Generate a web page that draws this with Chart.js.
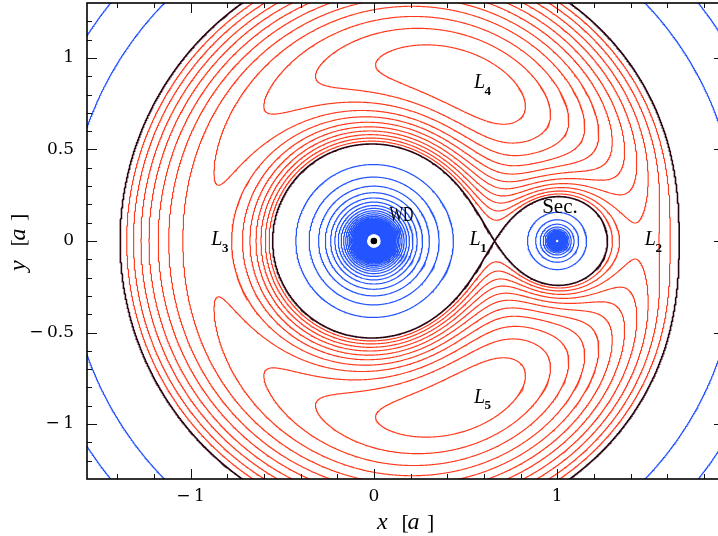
<!DOCTYPE html>
<html>
<head>
<meta charset="utf-8">
<script src="https://cdn.jsdelivr.net/npm/chart.js@4.4.1/dist/chart.umd.min.js"></script>
<style>
  html, body { margin: 0; padding: 0; background: #fff; overflow: hidden; }
  #wrap { width: 718px; height: 536px; }
</style>
</head>
<body>
<div id="wrap"><canvas id="c" width="718" height="536"></canvas></div>
<script>
// Equipotentials of the Roche potential for a white dwarf + secondary binary.
// Units: separation a = 1, G(M1+M2) = 1; the white dwarf sits at x = 0, the secondary at x = 1.
const massRatio = 0.2;                       // q = M2 / M1

// contour levels of the potential
const criticalLevel = [-1.8745];             // the level through L1 (Roche lobes + outer branch)
const outerLevels = [-1.837, -1.800, -1.762, -1.725, -1.687, -1.650, -1.612, -1.575, -1.537, -1.500, -1.462];
const innerLevels = [-2.25, -2.62, -3.00, -3.37, -3.75, -4.12, -4.50, -4.87, -5.25, -5.62,
  -6.00, -6.37, -6.75, -7.12, -7.50, -7.87, -8.25, -8.62, -9.00, -9.37,
  -9.75, -10.12, -10.50, -10.87, -11.25, -11.62, -12.00, -12.37, -12.75, -13.12,
  -13.50, -13.87, -14.25, -14.62, -15.00, -15.37, -15.75, -16.12, -16.50, -16.87,
  -17.25, -17.62, -18.00, -18.37, -18.75, -19.12, -19.50, -19.87, -20.25, -20.62,
  -21.00, -21.37, -21.75];

// stars
const starX = [0, 1];
const starY = [0, 0];

// axis ticks
const xTicks = [-1, 0, 1];
const yTicks = [-1, -0.5, 0, 0.5, 1];
const xMinorTicks = [-1.4, -1.2, -0.8, -0.6, -0.4, -0.2, 0.2, 0.4, 0.6, 0.8, 1.2, 1.4, 1.6, 1.8];
const yMinorTicks = [-1.2, -1.1, -0.9, -0.8, -0.7, -0.6, -0.4, -0.3, -0.2, -0.1,
  0.1, 0.2, 0.3, 0.4, 0.6, 0.7, 0.8, 0.9, 1.1, 1.2];

// text placed in the plane
const pointNames = ['1', '2', '3', '4', '5'];        // Lagrangian point subscripts
const starNames = ['WD', 'Sec.'];

// ---- layout (data coordinates of the text anchors, left/baseline) ----
const lagrangeAnchors = [[0.522, -0.022], [1.478, -0.022], [-0.887, -0.022], [0.546, 0.835], [0.546, -0.884]];
const starAnchors = [[0.085, 0.111], [0.918, 0.153]];
const PLOT = { left: 87, right: 724, top: 3, bottom: 479 };   // plot frame in canvas pixels

const COL_RED = '#ff3a1c';
const COL_BLUE = '#2354ff';
const COL_DARK = '#2a0410';

// ---- potential on a grid ----
const mu2 = massRatio / (1 + massRatio), mu1 = 1 - mu2;
function roche(x, y) {
  return -mu1 / Math.hypot(x - starX[0], y - starY[0])
         - mu2 / Math.hypot(x - starX[1], y - starY[1])
         - 0.5 * ((x - mu2) * (x - mu2) + y * y);
}
const H = 0.005, X0 = -1.6225, Y0 = -1.3525, NX = 716, NY = 542;
const F = new Float64Array(NX * NY);
for (let j = 0; j < NY; j++) {
  const y = Y0 + j * H;
  for (let i = 0; i < NX; i++) F[j * NX + i] = roche(X0 + i * H, y);
}

// marching squares; edges: 0 bottom, 1 right, 2 top, 3 left
const CASES = [null, [[3, 0]], [[0, 1]], [[3, 1]], [[1, 2]], null, [[0, 2]], [[3, 2]],
               [[2, 3]], [[0, 2]], null, [[1, 2]], [[1, 3]], [[0, 1]], [[0, 3]], null];

function traceLevel(level) {
  const coords = new Map();
  const ends = new Map();
  const segA = [], segB = [];
  for (let j = 0; j < NY - 1; j++) {
    for (let i = 0; i < NX - 1; i++) {
      const k = j * NX + i;
      const v0 = F[k], v1 = F[k + 1], v2 = F[k + NX + 1], v3 = F[k + NX];
      const c = (v0 > level ? 1 : 0) | (v1 > level ? 2 : 0) | (v2 > level ? 4 : 0) | (v3 > level ? 8 : 0);
      if (c === 0 || c === 15) continue;
      let pairs = CASES[c];
      if (c === 5 || c === 10) {
        const centre = (v0 + v1 + v2 + v3) / 4 > level;
        pairs = ((c === 5) === centre) ? [[0, 1], [2, 3]] : [[3, 0], [1, 2]];
      }
      for (const pr of pairs) {
        const keys = [0, 0];
        for (let m = 0; m < 2; m++) {
          const e = pr[m];
          let key, x, y, t;
          if (e === 0) { key = 2 * k; t = (level - v0) / (v1 - v0); x = X0 + (i + t) * H; y = Y0 + j * H; }
          else if (e === 1) { key = 2 * (k + 1) + 1; t = (level - v1) / (v2 - v1); x = X0 + (i + 1) * H; y = Y0 + (j + t) * H; }
          else if (e === 2) { key = 2 * (k + NX); t = (level - v3) / (v2 - v3); x = X0 + (i + t) * H; y = Y0 + (j + 1) * H; }
          else { key = 2 * k + 1; t = (level - v0) / (v3 - v0); x = X0 + i * H; y = Y0 + (j + t) * H; }
          if (!coords.has(key)) coords.set(key, [x, y]);
          keys[m] = key;
        }
        const s = segA.length;
        segA.push(keys[0]); segB.push(keys[1]);
        for (const kk of keys) {
          const l = ends.get(kk);
          if (l) l.push(s); else ends.set(kk, [s]);
        }
      }
    }
  }
  // join cell segments into polylines
  const n = segA.length, used = new Uint8Array(n), lines = [];
  const walk = (start, out) => {
    let key = start;
    for (;;) {
      const lst = ends.get(key);
      let nxt = -1;
      for (const t of lst) if (!used[t]) { nxt = t; break; }
      if (nxt < 0) break;
      used[nxt] = 1;
      key = segA[nxt] === key ? segB[nxt] : segA[nxt];
      out.push(key);
    }
  };
  for (let s = 0; s < n; s++) {
    if (used[s]) continue;
    used[s] = 1;
    const fwd = [segA[s], segB[s]];
    walk(segB[s], fwd);
    const back = [];
    walk(segA[s], back);
    const keys = back.reverse().concat(fwd);
    lines.push(keys.map(q => coords.get(q)));
  }
  return lines;
}

function levelPoints(levels) {
  const pts = [];
  for (const lv of levels) {
    for (const line of traceLevel(lv)) {
      for (const p of line) pts.push({ x: p[0], y: p[1] });
      pts.push({ x: null, y: null });
    }
  }
  return pts;
}

const fmt = v => (v < 0 ? '\u2212\u2009' + String(Math.abs(v)) : String(v));

// fixed plot frame; the right edge runs just past the canvas
const framePlugin = {
  id: 'frame',
  afterLayout(chart) {
    const a = chart.chartArea;
    Object.assign(a, PLOT, { width: PLOT.right - PLOT.left, height: PLOT.bottom - PLOT.top });
    const { x, y } = chart.scales;
    x.left = PLOT.left; x.right = PLOT.right; x.width = PLOT.right - PLOT.left; x.configure();
    y.top = PLOT.top; y.bottom = PLOT.bottom; y.height = PLOT.bottom - PLOT.top; y.configure();
  },
  // inward major/minor ticks on all four sides
  afterDatasetsDraw(chart) {
    const { ctx, chartArea: a, scales: { x, y } } = chart;
    ctx.save();
    ctx.strokeStyle = '#111';
    ctx.lineWidth = 1;
    ctx.beginPath();
    const tick = (list, len) => {
      for (const v of list) {
        const px = Math.round(x.getPixelForValue(v)) + 0.5;
        ctx.moveTo(px, a.bottom); ctx.lineTo(px, a.bottom - len);
        ctx.moveTo(px, a.top); ctx.lineTo(px, a.top + len);
      }
    };
    const tickY = (list, len) => {
      for (const v of list) {
        const py = Math.round(y.getPixelForValue(v)) + 0.5;
        ctx.moveTo(a.left, py); ctx.lineTo(a.left + len, py);
        ctx.moveTo(a.right, py); ctx.lineTo(a.right - len, py);
      }
    };
    tick(xTicks, 10); tick(xMinorTicks, 5);
    tickY(yTicks, 10); tickY(yMinorTicks, 5);
    ctx.stroke();
    ctx.strokeStyle = '#000';
    ctx.lineWidth = 1.6;
    ctx.strokeRect(a.left, a.top, a.right - a.left, a.bottom - a.top);
    ctx.restore();
  },
  afterDraw(chart) {
    const { ctx, chartArea: a, scales: { x, y } } = chart;
    ctx.save();
    ctx.fillStyle = '#000';
    ctx.textAlign = 'left';
    ctx.textBaseline = 'alphabetic';
    // Lagrangian points
    lagrangeAnchors.forEach((p, i) => {
      const px = x.getPixelForValue(p[0]), py = y.getPixelForValue(p[1]);
      ctx.font = 'italic 20px "Liberation Serif"';
      ctx.fillText('L', px, py);
      const w = ctx.measureText('L').width;
      ctx.font = 'bold 13px "Liberation Serif"';
      ctx.fillText(pointNames[i], px + w - 0.5, py + 6.5);
    });
    // stars
    ctx.font = '20px "Liberation Serif"';
    ctx.fillText(starNames[0], x.getPixelForValue(starAnchors[0][0]), y.getPixelForValue(starAnchors[0][1]), 24);
    ctx.font = '21px "Liberation Serif"';
    ctx.fillText(starNames[1], x.getPixelForValue(starAnchors[1][0]), y.getPixelForValue(starAnchors[1][1]));

    // axis titles: italic variable, upright brackets, italic unit
    const title = (v) => {
      ctx.font = 'italic 24px "Liberation Serif"';
      ctx.fillText(v, 0, 0);
      ctx.font = '22px "Liberation Serif"';
      ctx.fillText('[', 24.5, 0);
      ctx.font = 'italic 24px "Liberation Serif"';
      ctx.fillText('a', 30.5, 0);
      ctx.font = '22px "Liberation Serif"';
      ctx.fillText(']', 50, 0);
    };
    ctx.save();
    ctx.translate(377, 529);
    title('x');
    ctx.restore();
    ctx.save();
    ctx.translate(25, (a.top + a.bottom) / 2 + 30);
    ctx.rotate(-Math.PI / 2);
    title('y');
    ctx.restore();
    ctx.restore();
  }
};

const tickFont = { family: '"DejaVu Serif"', size: 17 };

new Chart(document.getElementById('c'), {
  type: 'scatter',
  data: {
    datasets: [
      { data: [{ x: starX[0], y: starY[0] }], pointRadius: 3.3, pointBackgroundColor: '#000', pointBorderWidth: 0, order: 0 },
      { data: [{ x: starX[1], y: starY[1] }], pointRadius: 1.2, pointBackgroundColor: '#fff', pointBorderWidth: 0, order: 1 },
      { data: [{ x: starX[0], y: starY[0] }], pointRadius: 6.8, pointBackgroundColor: '#fff', pointBorderWidth: 0, order: 2 },
      { data: levelPoints(criticalLevel), showLine: true, borderColor: COL_DARK, borderWidth: 1.6, pointRadius: 0, order: 3 },
      { data: levelPoints(outerLevels), showLine: true, borderColor: COL_RED, borderWidth: 1.15, pointRadius: 0, order: 4 },
      { data: levelPoints(innerLevels), showLine: true, borderColor: COL_BLUE, borderWidth: 1.2, pointRadius: 0, order: 5 }
    ]
  },
  options: {
    responsive: false,
    animation: false,
    devicePixelRatio: 1,
    events: [],
    layout: { padding: { top: 3, right: 0, left: 0, bottom: 0 } },
    plugins: { legend: { display: false }, tooltip: { enabled: false } },
    scales: {
      x: {
        type: 'linear', min: -1.565, max: 1.91,
        grid: { display: false, drawTicks: false }, border: { display: false },
        afterBuildTicks: s => { s.ticks = xTicks.map(v => ({ value: v })); },
        afterFit: s => { s.height = 57; s.paddingLeft = 0; s.paddingRight = 0; },
        ticks: { font: tickFont, color: '#000', padding: 7, autoSkip: false, maxRotation: 0, callback: v => fmt(v) }
      },
      y: {
        type: 'linear', min: -1.3, max: 1.3,
        grid: { display: false, drawTicks: false }, border: { display: false },
        afterBuildTicks: s => { s.ticks = yTicks.map(v => ({ value: v })); },
        afterFit: s => { s.width = 87; s.paddingTop = 0; s.paddingBottom = 0; },
        ticks: { font: tickFont, color: '#000', padding: 13, autoSkip: false, callback: v => fmt(v) }
      }
    }
  },
  plugins: [framePlugin]
});
</script>
</body>
</html>
